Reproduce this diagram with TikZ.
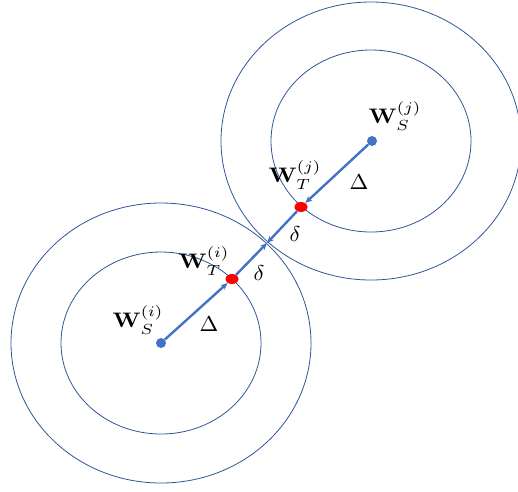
\documentclass[tikz,border=0pt]{standalone}
\usepackage{graphicx}
\usetikzlibrary{arrows.meta,shapes.geometric}
\definecolor{ringc}{RGB}{47,85,151}
\definecolor{linec}{RGB}{68,114,196}
\definecolor{dotred}{RGB}{255,0,0}
\newcommand{\bigmath}[1]{\scalebox{2.35}[2.1]{$#1$}}
\newcommand{\greekmath}[1]{\scalebox{2.25}[2.15]{$#1$}}
\tikzset{
  ring/.style={draw=ringc, line width=0.8pt},
  srcdot/.style={circle, fill=linec, inner sep=0pt, minimum size=10pt},
  tgtdot/.style={ellipse, fill=dotred, inner sep=0pt, minimum width=13pt, minimum height=10pt},
  vec/.style={draw=linec, line width=2.4pt, -{Stealth[length=7pt,width=6pt]}},
  lbl/.style={inner sep=0pt}
}
\begin{document}
\begin{tikzpicture}[x=1pt,y=-1pt]
\useasboundingbox (0,0) rectangle (518,491);
% rings
\draw[ring] (161,343) ellipse [x radius=150, y radius=140];
\draw[ring] (161,343) ellipse [x radius=100, y radius=91];
\draw[ring] (371,141) ellipse [x radius=150, y radius=139];
\draw[ring] (371,141) ellipse [x radius=100, y radius=91];
% points
\coordinate (m) at (267,243);
\node[srcdot] (si) at (161,343) {};
\node[srcdot] (sj) at (372,141) {};
\node[tgtdot] (ti) at (232,279) {};
\node[tgtdot] (tj) at (301,207) {};
% vectors
\draw[vec] (si) -- (ti);
\draw[vec] (ti) -- (m);
\draw[vec] (sj) -- (tj);
\draw[vec] (tj) -- (m);
% labels
\node[lbl] (lsi) at (138,320) {\bigmath{\mathbf{W}_S^{(i)}}};
\node[lbl] (lti) at (204,261) {\bigmath{\mathbf{W}_T^{(i)}}};
\node[lbl] (lsj) at (395,116) {\bigmath{\mathbf{W}_S^{(j)}}};
\node[lbl] (ltj) at (295,175) {\bigmath{\mathbf{W}_T^{(j)}}};
\node[lbl] (di) at (209,324) {\greekmath{\Delta}};
\node[lbl] (dj) at (359,182) {\greekmath{\Delta}};
\node[lbl] (ei) at (259,273) {\greekmath{\delta}};
\node[lbl] (ej) at (295,234) {\greekmath{\delta}};
\end{tikzpicture}
\end{document}
